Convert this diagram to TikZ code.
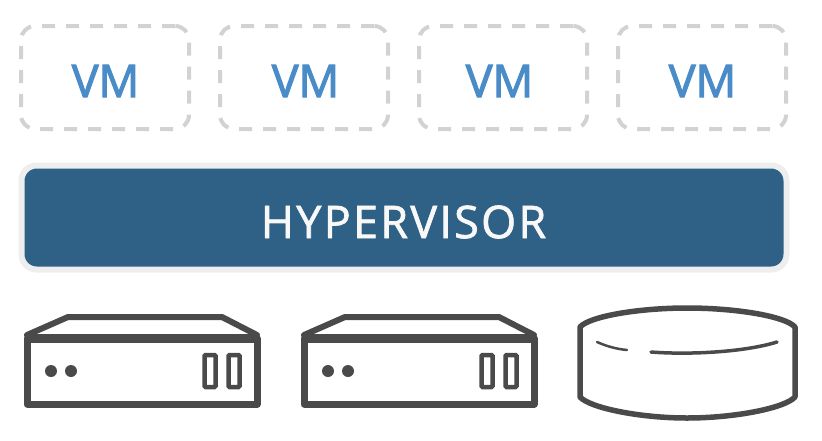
\documentclass[tikz,border=0pt]{standalone}
\usepackage{fontspec}
\setmainfont{Open Sans}
\newfontfamily\vmfont[FakeBold=2.5]{Open Sans}
\newfontfamily\hvfont[FakeBold=1.5,LetterSpace=5]{Open Sans}
\usepackage{tikz}
\definecolor{vmblue}{HTML}{4A8CC8}
\definecolor{vmgrey}{HTML}{D2D2D2}
\definecolor{hvblue}{HTML}{2F6085}
\definecolor{hvedge}{HTML}{EEEEEE}
\definecolor{hwgrey}{HTML}{4A4A4A}

\begin{document}
\begin{tikzpicture}[
		x=1pt,y=-1pt,
		vmbox/.style={draw=vmgrey,line width=4pt,dash pattern=on 13pt off 11pt,rounded corners=14pt,minimum width=168pt,minimum height=103pt,inner sep=0pt},
		vmlabel/.style={text=vmblue,font=\vmfont\fontsize{45pt}{45pt}\selectfont,inner sep=0pt},
		hvbox/.style={draw=hvedge,fill=hvblue,line width=6pt,rounded corners=15pt,minimum width=765pt,minimum height=104pt,inner sep=0pt},
		hvlabel/.style={text=hvedge!40!white,font=\hvfont\fontsize{45pt}{45pt}\selectfont,inner sep=0pt},
		hwline/.style={draw=hwgrey,line width=7pt,line join=round,line cap=round},
		hwthin/.style={draw=hwgrey,line width=3.5pt,line cap=round},
		slotbox/.style={draw=hwgrey,line width=4.5pt,rounded corners=1pt,minimum width=11pt,minimum height=32pt,inner sep=0pt},
		leddot/.style={circle,fill=hwgrey,minimum size=12pt,inner sep=0pt}]
	\useasboundingbox (0,0) rectangle (822,440);
	%% virtual machines
	\foreach \i/\bx/\tx in {1/105/105.5,2/304/305.5,3/503/499.5,4/702/702.5} {
		\node (vm\i) at (\bx,77.5) [vmbox] {};
		\node (vmtext\i) at (\tx,81) [vmlabel] {VM};
	}
	%% hypervisor
	\node (hypervisor) at (404,217.5) [hvbox] {};
	\node (hvtext) at (403.5,222) [hvlabel] {HYPERVISOR};
	%% servers
	\foreach \s/\dx in {a/0,b/277} {
		\begin{scope}[xshift=\dx pt]
			\draw[hwline] (27,338) -- (27,404) -- (257,404) -- (257,338) -- cycle;
			\draw[hwline,line width=9pt,line cap=butt] (27,338) -- (257,338);
			\draw[hwline,line width=6pt] (27,335) -- (68,317) -- (222,317) -- (257,335);
			\node (led\s1) at (51,371) [leddot] {};
			\node (led\s2) at (71,371) [leddot] {};
			\node (slot\s1) at (210,371) [slotbox] {};
			\node (slot\s2) at (234,371) [slotbox] {};
		\end{scope}
	}
	%% disk
	\draw[hwline,line width=5.5pt] (580,327) .. controls (590,316) and (640,308) .. (687,308)
		.. controls (735,308) and (785,316) .. (795,327) -- (795,397)
		.. controls (785,408) and (735,418) .. (687,418)
		.. controls (640,418) and (590,408) .. (580,397) -- cycle;
	\draw[hwthin,line width=2.5pt] (597,342) .. controls (606,346) and (616,349) .. (627,350);
	\draw[hwthin] (651,352) .. controls (690,355) and (745,352) .. (777,342);
\end{tikzpicture}
\end{document}
